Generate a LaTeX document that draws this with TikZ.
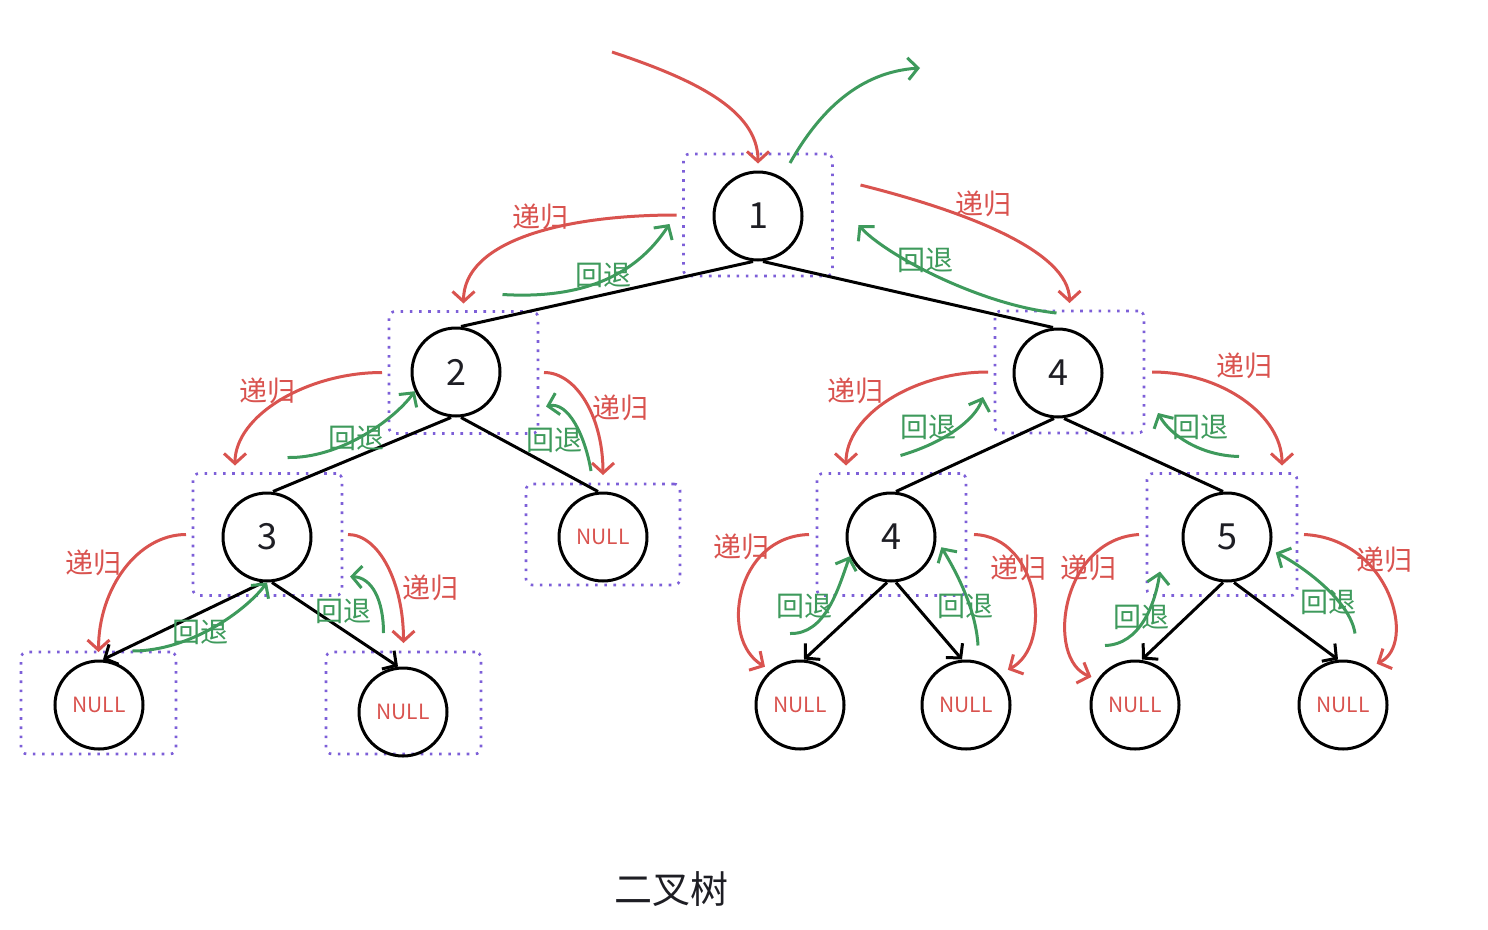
\documentclass[tikz,border=0pt]{standalone}
\usepackage{fontspec}
\setmainfont{Noto Sans CJK SC}
\usepackage{tikz}
\usetikzlibrary{arrows.meta}
\definecolor{recred}{HTML}{D9534F}
\definecolor{backgreen}{HTML}{3E9A5C}
\definecolor{boxpurple}{HTML}{7D5FD8}
\definecolor{ink}{HTML}{1E1E24}

\begin{document}
\begin{tikzpicture}[x=1pt, y=-1pt,
  vertex/.style={circle, draw=black, line width=3pt, minimum size=88pt, inner sep=0pt,
                 text=ink, font=\fontsize{36}{36}\selectfont},
  nullnode/.style={vertex, text=recred, font=\fontsize{21}{21}\selectfont},
  frame/.style={draw=boxpurple, line width=2.6pt, dash pattern=on 2.6pt off 6.6pt,
                rounded corners=6pt, minimum width=149pt, minimum height=122pt,
                inner sep=0pt, outer sep=0pt},
  nullframe/.style={frame, minimum width=155pt, minimum height=102pt},
  link/.style={draw=black, line width=3pt},
  leafarrow/.style={link, -{Straight Barb[length=10pt, width=22pt]}},
  recur/.style={draw=recred, line width=3pt, -{Straight Barb[length=10pt, width=22pt]}},
  retreat/.style={draw=backgreen, line width=3pt, -{Straight Barb[length=10pt, width=22pt]}},
  rlabel/.style={text=recred, font=\fontsize{28}{28}\selectfont, inner sep=0pt},
  glabel/.style={text=backgreen, font=\fontsize{28}{28}\selectfont, inner sep=0pt},
  caption/.style={text=ink, font=\fontsize{38}{38}\selectfont}]

\useasboundingbox (0,0) rectangle (1488,929);

\node[frame] (frRoot) at (758,215) {};
\node[frame] (frTwo) at (463.5,372.5) {};
\node[frame] (frFour) at (1069.5,372) {};
\node[frame] (frThree) at (267.5,534.5) {};
\node[frame, minimum width=154pt, minimum height=101pt] (frNilTwo) at (603,534.5) {};
\node[frame] (frFourB) at (891.5,534.5) {};
\node[frame, minimum width=150pt] (frFive) at (1222,534.5) {};
\node[nullframe] (frNilA) at (98.5,703) {};
\node[nullframe] (frNilB) at (403.5,703) {};

\node[vertex] (root) at (758,216) {1};
\node[vertex] (two) at (456,372) {2};
\node[vertex] (four) at (1058,373) {4};
\node[vertex] (three) at (267,537) {3};
\node[nullnode] (nilTwo) at (603,537) {NULL};
\node[vertex] (fourB) at (891,537) {4};
\node[vertex] (five) at (1227,537) {5};
\node[nullnode] (nilA) at (99,705) {NULL};
\node[nullnode] (nilB) at (403,712) {NULL};
\node[nullnode] (nilFourA) at (800,705) {NULL};
\node[nullnode] (nilFourB) at (966,705) {NULL};
\node[nullnode] (nilFiveA) at (1135,705) {NULL};
\node[nullnode] (nilFiveB) at (1343,705) {NULL};

\draw[link] ([xshift=-5pt]root.south) -- ([xshift=5pt]two.north);
\draw[link] ([xshift=5pt]root.south) -- ([xshift=-5pt]four.north);
\draw[link] ([xshift=-5pt]two.south) -- ([xshift=6pt]three.north);
\draw[link] ([xshift=5pt]two.south) -- ([xshift=-5pt]nilTwo.north);
\draw[link] ([xshift=-4pt]four.south) -- ([xshift=5pt]fourB.north);
\draw[link] ([xshift=6pt]four.south) -- ([xshift=-4pt]five.north);
\draw[leafarrow] ([xshift=-4pt]three.south) -- ([xshift=4pt]nilA.north);
\draw[leafarrow] ([xshift=5pt]three.south) -- ([xshift=-5pt]nilB.north);
\draw[leafarrow] ([xshift=-4pt]fourB.south) -- ([xshift=4pt]nilFourA.north);
\draw[leafarrow] ([xshift=5pt]fourB.south) -- ([xshift=-4pt]nilFourB.north);
\draw[leafarrow] ([xshift=-4pt]five.south) -- ([xshift=7pt]nilFiveA.north);
\draw[leafarrow] ([xshift=7pt]five.south) -- ([xshift=-5pt]nilFiveB.north);

\coordinate (enter) at (612,52);
\coordinate (leave) at (920,68);
\draw[recur] (enter) .. controls +(78,26) and +(0,-55) .. ([yshift=7pt]root.north);
\draw[retreat] ([xshift=32pt,yshift=-9pt]frRoot.north) .. controls +(30,-53) and +(-60,4) .. (leave);

\draw[recur] ([xshift=-7pt]frRoot.west) .. controls +(-115,0) and +(0,-62) .. ([yshift=8pt]frTwo.north);
\draw[retreat] ([xshift=39pt,yshift=17pt]frTwo.north) .. controls +(98,6) and +(-25,38) .. ([xshift=-14pt,yshift=-9pt]frRoot.west);
\draw[recur] ([xshift=28pt,yshift=30pt]frRoot.east) .. controls +(100,25) and +(0,-53) .. ([yshift=8pt]frFour.north);
\draw[retreat] ([xshift=-13pt,yshift=-2pt]frFour.north) .. controls +(-76,-8) and +(27,30) .. ([xshift=26pt,yshift=-10pt]frRoot.east);

\draw[recur] ([xshift=-7pt]frTwo.west) .. controls +(-75,0) and +(0,-50) .. ([xshift=42pt,yshift=8pt]frThree.north west);
\draw[retreat] ([xshift=20pt,yshift=16pt]frThree.north) .. controls +(52,1) and +(-21,29) .. (two.205);
\draw[recur] ([xshift=6pt]frTwo.east) .. controls +(33,0) and +(0,-57) .. ([yshift=9pt]frNilTwo.north);
\draw[retreat] ([xshift=-12pt,yshift=13pt]frNilTwo.north) .. controls +(-6,-36) and +(22,-5) .. ([xshift=8pt,yshift=-34pt]frTwo.east);

\draw[recur] ([xshift=-7pt]frThree.west) .. controls +(-48,0) and +(0,-64) .. (frNilA.north);
\draw[retreat] ([xshift=34pt,yshift=1pt]frNilA.north) .. controls +(57,0) and +(-22,29) .. (three.south);
\draw[recur] ([xshift=6pt]frThree.east) .. controls +(31,0) and +(0,-60) .. ([yshift=9pt]frNilB.north);
\draw[retreat] ([xshift=-20pt,yshift=19pt]frNilB.north) .. controls +(0,-33) and +(22,1) .. ([xshift=8pt,yshift=-42pt]frThree.east);

\draw[recur] ([xshift=-7pt]frFour.west) .. controls +(-75,0) and +(0,-50) .. ([xshift=29pt,yshift=8pt]frFourB.north west);
\draw[retreat] ([xshift=9pt,yshift=18pt]frFourB.north) .. controls +(44,-13) and +(-8,23) .. ([xshift=-12pt,yshift=-25pt]frFour.west);
\draw[recur] ([xshift=8pt]frFour.east) .. controls +(70,0) and +(0,-50) .. ([xshift=-15pt,yshift=8pt]frFive.north east);
\draw[retreat] ([xshift=17pt,yshift=17pt]frFive.north) .. controls +(-39,-1) and +(12,22) .. ([xshift=14pt,yshift=-41pt]frFour.east);

\draw[recur] ([xshift=-8pt]frFourB.west) .. controls +(-74,2) and +(-46,-27) .. ([xshift=-4pt,yshift=5pt]nilFourA.133);
\draw[retreat] ([xshift=-10pt,yshift=26pt]nilFourA.north) .. controls +(35,1) and +(-12,34) .. (fourB.205);
\draw[retreat] ([xshift=12pt,yshift=14pt]nilFourB.north) .. controls +(-2,-37) and +(14,23) .. ([xshift=6pt]fourB.-13);
\draw[recur] ([xshift=8pt]frFourB.east) .. controls +(66,2) and +(46,-24) .. ([xshift=7pt,yshift=6pt]nilFourB.40);

\draw[recur] ([xshift=-8pt]frFive.west) .. controls +(-79,5) and +(-46,-17) .. ([xshift=-5pt,yshift=4pt]nilFiveA.148);
\draw[retreat] ([xshift=-30pt,yshift=14pt]nilFiveA.north) .. controls +(35,-1) and +(-5,33) .. ([xshift=13pt,yshift=-37pt]frFive.west);
\draw[retreat] ([xshift=12pt,yshift=26pt]nilFiveB.north) .. controls +(-5,-34) and +(24,12) .. ([xshift=6pt]five.-20);
\draw[recur] ([xshift=7pt]frFive.east) .. controls +(86,4) and +(41,-19) .. ([xshift=5pt,yshift=6pt]nilFiveB.51);

\node[rlabel] (r1) at (540,217) {递归};
\node[rlabel] (r2) at (983,204) {递归};
\node[rlabel] (r3) at (267,391) {递归};
\node[rlabel] (r4) at (620,408) {递归};
\node[rlabel] (r5) at (93,563) {递归};
\node[rlabel] (r6) at (430,588) {递归};
\node[rlabel] (r7) at (855,391) {递归};
\node[rlabel] (r8) at (1244,366) {递归};
\node[rlabel] (r9) at (741,547) {递归};
\node[rlabel] (r10) at (1018,568) {递归};
\node[rlabel] (r11) at (1088,568) {递归};
\node[rlabel] (r12) at (1384,560) {递归};

\node[glabel] (g1) at (603,275) {回退};
\node[glabel] (g2) at (925,260) {回退};
\node[glabel] (g3) at (356,438) {回退};
\node[glabel] (g4) at (554,440) {回退};
\node[glabel] (g5) at (200,632) {回退};
\node[glabel] (g6) at (343,611) {回退};
\node[glabel] (g7) at (928,427) {回退};
\node[glabel] (g8) at (1200,427) {回退};
\node[glabel] (g9) at (804,606) {回退};
\node[glabel] (g10) at (965,606) {回退};
\node[glabel] (g11) at (1141,617) {回退};
\node[glabel] (g12) at (1328,602) {回退};

\node[caption] (title) at (671,889) {二叉树};
\end{tikzpicture}
\end{document}
